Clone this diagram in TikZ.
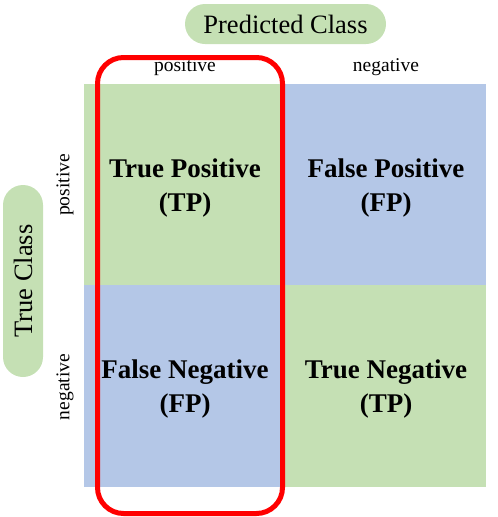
\documentclass[tikz,border=0pt]{standalone}
\usepackage{fontspec}
\setmainfont{Liberation Serif}
\definecolor{cgreen}{HTML}{C5E0B4}
\definecolor{cblue}{HTML}{B4C7E7}
\definecolor{cred}{HTML}{FF0000}
\begin{document}
\begin{tikzpicture}[x=1pt,y=-1pt,
  cell/.style={minimum width=201pt,minimum height=201pt,inner sep=0pt,outer sep=0pt,anchor=north west},
  celltext/.style={align=center,font=\fontsize{27}{34}\selectfont\bfseries,inner sep=0pt},
  pill/.style={fill=cgreen,rounded corners=20pt,inner sep=0pt,font=\fontsize{26.5}{30}\selectfont},
  axlabel/.style={font=\fontsize{19.5}{22}\selectfont,inner sep=0pt}]
\useasboundingbox (0,0) rectangle (498,517);
% cells
\node[cell,fill=cgreen] (tp) at (84,84) {};
\node[cell,fill=cblue] (fp) at (285,84) {};
\node[cell,fill=cblue,minimum height=202pt] (fn) at (84,285) {};
\node[cell,fill=cgreen,minimum height=202pt] (tn) at (285,285) {};
% cell texts
\node[celltext] (tpt) at (185,188) {True Positive\\(TP)};
\node[celltext] (fpt) at (386,188) {False Positive\\(FP)};
\node[celltext] (fnt) at (185,389) {False Negative\\(FP)};
\node[celltext] (tnt) at (386,389) {True Negative\\(TP)};
% axis pills
\node[pill,minimum width=201pt,minimum height=40pt] (pc) at (285.5,24) {Predicted Class};
\node[pill,minimum width=192pt,minimum height=40pt,rotate=90] (tc) at (23,281) {True Class};
% axis labels
\node[axlabel] (pp) at (185,67) {positive};
\node[axlabel] (pn) at (386,67) {negative};
\node[axlabel,rotate=90] (tpos) at (65,185) {positive};
\node[axlabel,rotate=90] (tneg) at (65,387) {negative};
% red highlight
\draw[cred,line width=5pt,rounded corners=26pt] (97.5,57.5) rectangle (282.5,513.5);
\end{tikzpicture}
\end{document}
